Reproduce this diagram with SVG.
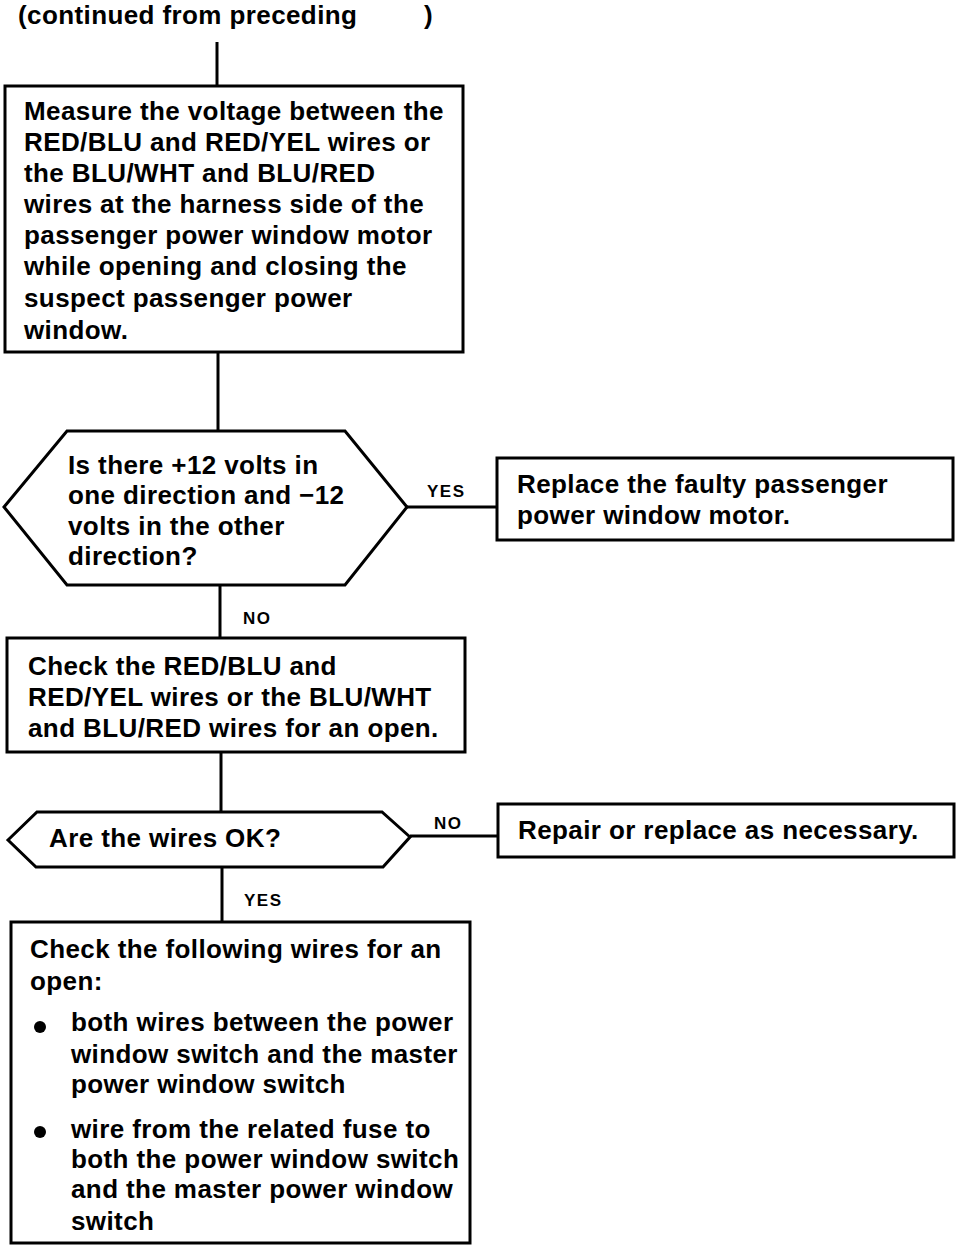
<svg xmlns="http://www.w3.org/2000/svg" width="960" height="1248" viewBox="0 0 960 1248">
<style>
.t{font-family:"Liberation Sans",Arial,sans-serif;font-weight:bold;font-size:26px;letter-spacing:0.4px;fill:#000}
.s{font-family:"Liberation Sans",Arial,sans-serif;font-weight:bold;font-size:17px;letter-spacing:1.5px;fill:#000}
.b{fill:#fff;stroke:#000;stroke-width:3}
.c{fill:none;stroke:#000;stroke-width:3}
</style>
<rect width="960" height="1248" fill="#fff"/>
<text class="t" x="18" y="24">(continued from preceding</text>
<text class="t" x="424" y="24">)</text>
<g id="connectors">
<line class="c" x1="217" y1="42" x2="217" y2="86"/>
<line class="c" x1="218" y1="352" x2="218" y2="431"/>
<line class="c" x1="407" y1="507" x2="497" y2="507"/>
<line class="c" x1="220" y1="585" x2="220" y2="638"/>
<line class="c" x1="221" y1="752" x2="221" y2="812"/>
<line class="c" x1="410" y1="836" x2="498" y2="836"/>
<line class="c" x1="222" y1="868" x2="222" y2="922"/>
<text class="s" x="427" y="497">YES</text>
<text class="s" x="243" y="624">NO</text>
<text class="s" x="434" y="829">NO</text>
<text class="s" x="244" y="906">YES</text>
</g>
<g id="measure">
<rect class="b" x="5" y="86" width="458" height="266"/>
<text class="t" x="24" y="120">Measure the voltage between the</text>
<text class="t" x="24" y="151">RED/BLU and RED/YEL wires or</text>
<text class="t" x="24" y="182">the BLU/WHT and BLU/RED</text>
<text class="t" x="24" y="213">wires at the harness side of the</text>
<text class="t" x="24" y="244">passenger power window motor</text>
<text class="t" x="24" y="275">while opening and closing the</text>
<text class="t" x="24" y="307">suspect passenger power</text>
<text class="t" x="24" y="339">window.</text>
</g>
<g id="decision1">
<polygon class="b" points="4,507 67,431 345,431 407,507 345,585 67,585"/>
<text class="t" x="68" y="474">Is there +12 volts in</text>
<text class="t" x="68" y="504">one direction and −12</text>
<text class="t" x="68" y="535">volts in the other</text>
<text class="t" x="68" y="565">direction?</text>
</g>
<g id="replace">
<rect class="b" x="497" y="458" width="456" height="82"/>
<text class="t" x="517" y="493">Replace the faulty passenger</text>
<text class="t" x="517" y="524">power window motor.</text>
</g>
<g id="check1">
<rect class="b" x="7" y="638" width="458" height="114"/>
<text class="t" x="28" y="675">Check the RED/BLU and</text>
<text class="t" x="28" y="706">RED/YEL wires or the BLU/WHT</text>
<text class="t" x="28" y="737">and BLU/RED wires for an open.</text>
</g>
<g id="decision2">
<polygon class="b" points="8,840 37,812 382,812 410,837 383,867 36,867"/>
<text class="t" x="49" y="847">Are the wires OK?</text>
</g>
<g id="repair">
<rect class="b" x="498" y="804" width="456" height="53"/>
<text class="t" x="518" y="839">Repair or replace as necessary.</text>
</g>
<g id="check2">
<rect class="b" x="11" y="922" width="459" height="321"/>
<text class="t" x="30" y="958">Check the following wires for an</text>
<text class="t" x="30" y="990">open:</text>
<circle cx="40" cy="1027" r="6" fill="#000"/>
<text class="t" x="71" y="1031">both wires between the power</text>
<text class="t" x="71" y="1063">window switch and the master</text>
<text class="t" x="71" y="1093">power window switch</text>
<circle cx="40" cy="1132" r="6" fill="#000"/>
<text class="t" x="71" y="1138">wire from the related fuse to</text>
<text class="t" x="71" y="1168">both the power window switch</text>
<text class="t" x="71" y="1198">and the master power window</text>
<text class="t" x="71" y="1230">switch</text>
</g>
</svg>
